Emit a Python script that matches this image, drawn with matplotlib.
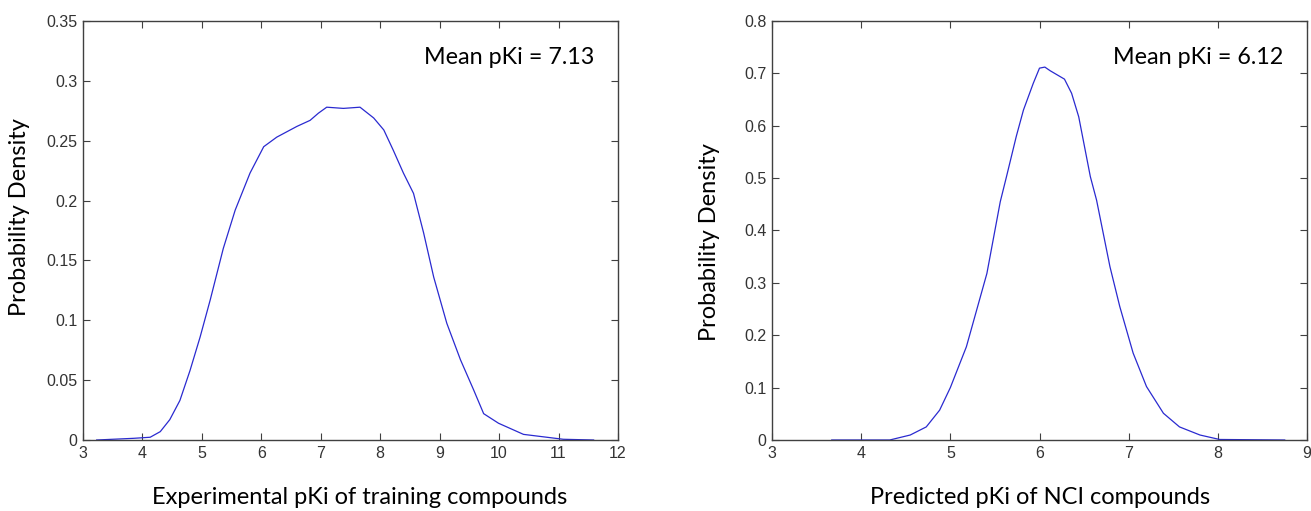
import matplotlib
matplotlib.use("Agg")
import matplotlib.pyplot as plt

# Experimental pKi (training compounds) density curve
train_x = [3.23, 3.85, 4.13, 4.30, 4.46, 4.63, 4.80, 4.97, 5.14, 5.36, 5.56, 5.81,
           6.04, 6.26, 6.60, 6.82, 6.96, 7.10, 7.38, 7.66, 7.89, 8.06, 8.22, 8.39,
           8.56, 8.73, 8.90, 9.12, 9.35, 9.57, 9.74, 9.99, 10.41, 11.08, 11.59]
train_y = [0.0, 0.0014, 0.0023, 0.007, 0.017, 0.033, 0.058, 0.086, 0.117, 0.160, 0.192, 0.223,
           0.245, 0.253, 0.262, 0.267, 0.273, 0.278, 0.277, 0.278, 0.269, 0.259, 0.242, 0.223,
           0.206, 0.173, 0.136, 0.0975, 0.067, 0.042, 0.022, 0.014, 0.0047, 0.0006, 0.0]

# Predicted pKi (NCI compounds) density curve
nci_x = [3.67, 4.32, 4.55, 4.73, 4.88, 5.00, 5.18, 5.41, 5.56, 5.63, 5.74, 5.82,
         5.93, 6.00, 6.06, 6.12, 6.28, 6.36, 6.44, 6.57, 6.64, 6.79, 6.90, 7.05,
         7.20, 7.39, 7.57, 7.80, 8.02, 8.75]
nci_y = [0.0, 0.0, 0.0095, 0.025, 0.057, 0.100, 0.178, 0.318, 0.455, 0.503, 0.580, 0.630,
         0.681, 0.710, 0.712, 0.705, 0.689, 0.662, 0.617, 0.503, 0.458, 0.331, 0.255, 0.166,
         0.102, 0.051, 0.025, 0.0095, 0.001, 0.0]

label_font = ["Lato", "DejaVu Sans"]
tick_font = "Liberation Sans"
line_color = "#2a2ad0"
spine_color = "#404040"

fig = plt.figure(figsize=(13.11, 5.11), dpi=100)
ax1 = fig.add_axes([83 / 1311, 71 / 511, 535 / 1311, 419 / 511])
ax2 = fig.add_axes([772 / 1311, 71 / 511, 535 / 1311, 419 / 511])


def style_axes(ax, xlim, ylim, xticks, yticks, ylabels):
    ax.set_xlim(xlim)
    ax.set_ylim(ylim)
    ax.set_xticks(xticks)
    ax.set_yticks(yticks)
    ax.set_yticklabels(ylabels)
    ax.tick_params(direction="in", length=5, width=0.8, top=True, right=True,
                   colors=spine_color, labelcolor="#333333", labelsize=11.5, pad=4)
    for lab in ax.get_xticklabels() + ax.get_yticklabels():
        lab.set_fontfamily(tick_font)
    for s in ax.spines.values():
        s.set_color(spine_color)
        s.set_linewidth(1.0)


ax1.plot(train_x, train_y, color=line_color, lw=0.9)
style_axes(ax1, (3, 12), (0, 0.35), range(3, 13),
           [0, 0.05, 0.1, 0.15, 0.2, 0.25, 0.3, 0.35],
           ["0", "0.05", "0.1", "0.15", "0.2", "0.25", "0.3", "0.35"])
ax1.text(0.955, 0.912, "Mean pKi = 7.13", transform=ax1.transAxes, ha="right", va="center",
         fontsize=16.8, family=label_font)

ax2.plot(nci_x, nci_y, color=line_color, lw=0.9)
style_axes(ax2, (3, 9), (0, 0.8), range(3, 10),
           [0, 0.1, 0.2, 0.3, 0.4, 0.5, 0.6, 0.7, 0.8],
           ["0", "0.1", "0.2", "0.3", "0.4", "0.5", "0.6", "0.7", "0.8"])
ax2.text(0.955, 0.912, "Mean pKi = 6.12", transform=ax2.transAxes, ha="right", va="center",
         fontsize=16.8, family=label_font)

fig.text(20 / 1311, 1 - 217 / 511, "Probability Density", rotation=90, ha="center", va="center",
         fontsize=17, family=label_font)
fig.text(710 / 1311, 1 - 242 / 511, "Probability Density", rotation=90, ha="center", va="center",
         fontsize=17, family=label_font)
fig.text(360 / 1311, 1 - 497 / 511, "Experimental pKi of training compounds", ha="center",
         va="center", fontsize=17, family=label_font)
fig.text(1040 / 1311, 1 - 497 / 511, "Predicted pKi of NCI compounds", ha="center",
         va="center", fontsize=17, family=label_font)

fig.savefig("out.png", dpi=100, facecolor="white")
